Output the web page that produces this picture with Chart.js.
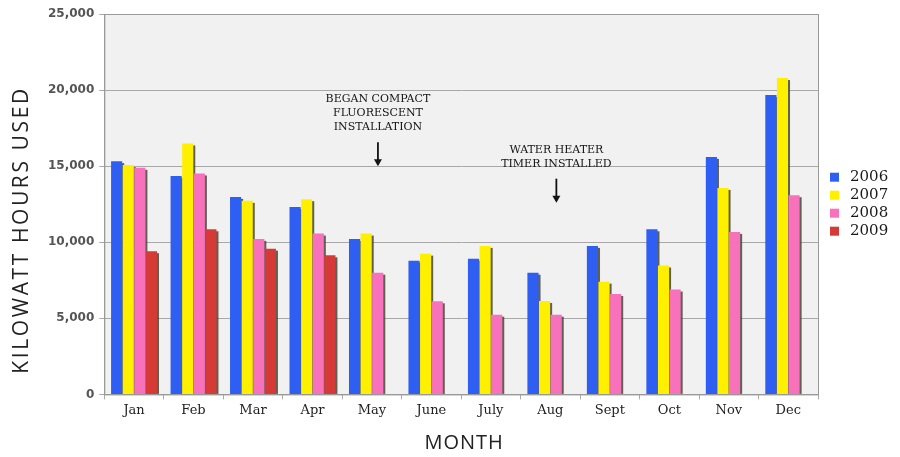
<!DOCTYPE html>
<html>
<head>
<meta charset="utf-8">
<script src="https://cdn.jsdelivr.net/npm/chart.js@4.4.0/dist/chart.umd.min.js"></script>
<style>
  html, body { margin: 0; padding: 0; background: #fff; }
  #wrap { width: 900px; height: 457px; }
</style>
</head>
<body>
<div id="wrap"><canvas id="myChart"></canvas></div>
<script>
// data
const months = ['Jan', 'Feb', 'Mar', 'Apr', 'May', 'June', 'July', 'Aug', 'Sept', 'Oct', 'Nov', 'Dec'];
const years = ['2006', '2007', '2008', '2009'];
const kwh2006 = [15330, 14360, 12980, 12320, 10220, 8790, 8920, 8000, 9760, 10850, 15610, 19670];
const kwh2007 = [15070, 16490, 12720, 12830, 10570, 9250, 9760, 6140, 7410, 8470, 13570, 20790];
const kwh2008 = [14890, 14520, 10220, 10570, 8000, 6120, 5240, 5240, 6600, 6890, 10680, 13090];
const kwh2009 = [9410, 10850, 9580, 9140, null, null, null, null, null, null, null, null];
const yTicks = [0, 5000, 10000, 15000, 20000, 25000];
const xTitle = 'MONTH';
const yTitle = 'KILOWATT HOURS USED';

// notes above the bars: month, arrow tip value, text lines
const noteMonths = ['May', 'Aug'];
const noteTips = [15000, 12600];
const noteLines = [
    ['BEGAN COMPACT', 'FLUORESCENT', 'INSTALLATION'],
    ['WATER HEATER', 'TIMER INSTALLED']
];

const colors = ['#2f5ff2', '#fff000', '#f772bb', '#d63a36'];

//plot background, bar shadows, notes, legend, titles
const decor = {
    id: 'decor',
    beforeDraw(chart) {
        const a = chart.chartArea, c = chart.ctx;
        c.save();
        c.fillStyle = '#f1f1f1';
        c.fillRect(a.left, a.top, a.right - a.left, a.bottom - a.top);
        c.restore();
    },
    beforeDatasetsDraw(chart) {
        const c = chart.ctx;
        c.save();
        c.fillStyle = 'rgba(70,70,55,0.85)';
        chart.data.datasets.forEach((ds, i) => {
            chart.getDatasetMeta(i).data.forEach((bar, j) => {
                if (ds.data[j] == null) return;
                c.fillRect(bar.x + bar.width / 2 - 1, bar.y + 2, 3, bar.base - bar.y - 2);
            });
        });
        c.restore();
    },
    afterDraw(chart) {
        const c = chart.ctx, x = chart.scales.x, y = chart.scales.y;
        const a = chart.chartArea;
        c.save();
        c.strokeStyle = '#9a9a9a';
        c.lineWidth = 1;
        c.strokeRect(a.left + 0.5, a.top + 0.5, a.right - a.left, a.bottom - a.top);

        // notes
        c.fillStyle = '#141414';
        c.strokeStyle = '#111';
        c.font = '11px "DejaVu Serif"';
        c.textAlign = 'center';
        noteMonths.forEach((m, i) => {
            const px = x.getPixelForValue(months.indexOf(m)) + 6;
            const tip = y.getPixelForValue(noteTips[i]);
            const lines = noteLines[i];
            const top = tip - 22 - lines.length * 14;
            lines.forEach((t, k) => c.fillText(t, px, top + k * 14));
            c.lineWidth = 1.8;
            c.beginPath();
            c.moveTo(px, tip - 24);
            c.lineTo(px, tip - 2);
            c.stroke();
            c.beginPath();
            c.moveTo(px - 4, tip - 7);
            c.lineTo(px, tip);
            c.lineTo(px + 4, tip - 7);
            c.closePath();
            c.fill();
        });

        // legend
        c.textAlign = 'left';
        c.textBaseline = 'middle';
        c.font = '15px "DejaVu Serif"';
        const lx = a.right + 12;
        const ly = (a.top + a.bottom) / 2 - 27;
        chart.data.datasets.forEach((ds, i) => {
            const yy = ly + i * 18;
            c.fillStyle = ds.backgroundColor;
            c.fillRect(lx, yy - 4.5, 9, 9);
            c.fillStyle = '#1a1a1a';
            c.fillText(ds.label, lx + 20, yy);
        });

        // axis titles
        c.fillStyle = '#222';
        c.textAlign = 'center';
        c.font = '20px "Open Sans"';
        c.letterSpacing = '1px';
        c.fillText(xTitle, (a.left + a.right) / 2 + 3, 443);
        c.save();
        c.translate(22, 230);
        c.rotate(-Math.PI / 2);
        c.font = '21px "Open Sans"';
        c.letterSpacing = '2.6px';
        c.fillText(yTitle, 0, 0);
        c.restore();
        c.restore();
    }
};

const ctx = document.getElementById('myChart').getContext('2d');
const myChart = new Chart(ctx, {
    type: 'bar',
    data: {
        labels: months,
        datasets: [kwh2006, kwh2007, kwh2008, kwh2009].map((d, i) => ({
            label: years[i],
            data: d,
            backgroundColor: colors[i],
            borderWidth: 0,
            barPercentage: 0.96,
            categoryPercentage: 0.78
        }))
    },
    options: {
        responsive: true,
        maintainAspectRatio: false,
        animation: false,
        layout: { padding: { top: 14, right: 82, bottom: 36, left: 43 } },
        plugins: {
            tooltip: { enabled: false },
            legend: { display: false }
        },
        scales: {
            x: {
                grid: { display: true, drawOnChartArea: false, offset: true, tickLength: 5, color: '#aaa' },
                border: { color: '#9a9a9a' },
                ticks: { color: '#222', font: { family: '"DejaVu Serif"', size: 13 }, padding: 3 }
            },
            y: {
                min: 0,
                max: 25000,
                afterBuildTicks(scale) { scale.ticks = yTicks.map(v => ({ value: v })); },
                grid: { color: '#a8a8a8', tickLength: 5 },
                border: { color: '#9a9a9a' },
                ticks: {
                    color: '#555',
                    padding: 5,
                    font: { family: '"DejaVu Sans"', size: 12, weight: 'bold' },
                    callback: v => v.toLocaleString('en-US')
                }
            }
        }
    },
    plugins: [decor]
});
</script>
</body>
</html>
